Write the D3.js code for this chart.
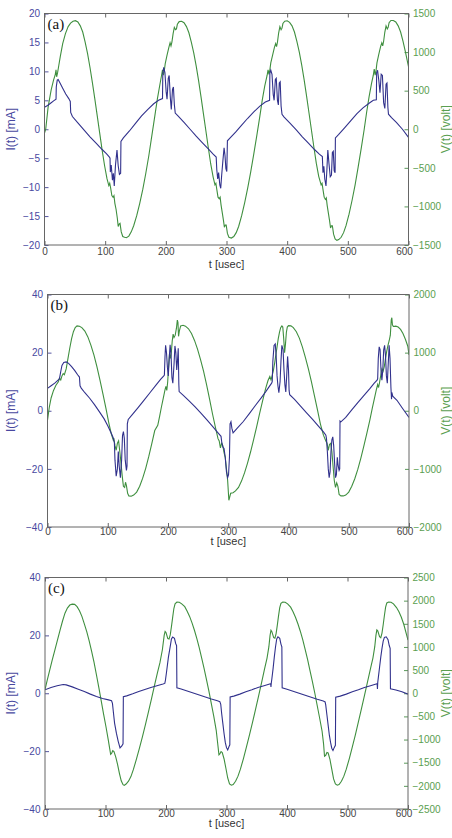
<!DOCTYPE html>
<html>
<head>
<meta charset="utf-8">
<script src="https://cdn.jsdelivr.net/npm/d3@7"></script>
<style>
  body { margin: 0; background: #fff; }
  text { font-family: "Liberation Sans", Arial, sans-serif; }
</style>
</head>
<body>
<script>
// tick values
var tTicks = [0, 100, 200, 300, 400, 500, 600];
var aITicks = [-20, -15, -10, -5, 0, 5, 10, 15, 20];
var aVTicks = [-1500, -1000, -500, 0, 500, 1000, 1500];
var bITicks = [-40, -20, 0, 20, 40];
var bVTicks = [-2000, -1000, 0, 1000, 2000];
var cITicks = [-40, -20, 0, 20, 40];
var cVTicks = [-2500, -2000, -1500, -1000, -500, 0, 500, 1000, 1500, 2000, 2500];

// panel (a) : [t usec, I mA]
var aCurrent = [[0,3.8],[5,4.1],[10,4.5],[15,4.9],[19,5.2],[19.4,7.3],[21,8.5],[22.5,8.6],[26,7.9],[30,7.1],[35,6.1],[40,5.3],[42.5,4.8],[43.2,2.9],[46,2.2],[55,1.1],[65,-0.1],[75,-1.3],[85,-2.4],[95,-3.5],[102,-4.2],[107,-4.8],
  [108,-5.0],[108.5,-7.4],[110,-6.2],[112,-8.8],[113.5,-7.6],[115,-9.8],[117,-6.2],[119.5,-3.6],[121.5,-6.3],[123.5,-7.8],[125.5,-7.6],[126,-2.1],
  [130,-1.5],[140,-0.3],[150,1.0],[160,2.3],[170,3.4],[180,4.4],[188,5.0],[194.5,5.3],
  [195,9.6],[196.5,10.7],[198.5,9.8],[200.5,6.5],[202,5.2],[204,8.8],[205.5,9.3],[207.5,5.3],[209,3.4],[211,6.9],[212.5,7.3],[214,4.3],[215.5,2.8],
  [220,2.3],[230,1.2],[240,0.0],[250,-1.2],[260,-2.3],[270,-3.4],[278,-4.3],[283,-4.8],
  [284,-7.0],[285.5,-8.6],[287,-7.5],[289,-9.6],[290.5,-10.2],[292,-8.0],[294,-5.5],[296,-3.2],[297.5,-4.5],[299,-6.8],[300.5,-7.3],[301.5,-2.0],
  [306,-1.5],[315,-0.5],[325,0.7],[335,1.9],[345,3.0],[355,4.0],[364,4.7],[371,5.0],
  [371.5,9.7],[373,10.2],[375,9.5],[377,6.0],[378.5,5.0],[380.5,8.6],[382,8.8],[384,5.0],[385.5,4.2],[387,8.0],[388.5,8.2],[390,4.0],[391.5,2.6],
  [395,2.1],[405,1.0],[415,-0.1],[425,-1.3],[435,-2.4],[445,-3.5],[453,-4.3],[458,-4.7],
  [459,-7.5],[460.5,-6.4],[462,-8.6],[464,-9.8],[465.5,-7.0],[467,-3.6],[469,-6.0],[471,-8.2],[473,-7.9],[474.5,-4.0],[476,-3.8],[477.5,-7.2],[479,-7.5],[479.5,-1.5],
  [485,-0.9],[495,0.3],[505,1.5],[515,2.7],[525,3.7],[535,4.5],[542,5.0],[547,5.1],
  [547.5,9.8],[549,10.2],[551,8.5],[553,6.3],[555,9.5],[557,9.3],[559,4.6],[561,3.6],[563,7.8],[564.5,8.0],[566,3.8],[567,2.6],
  [572,2.0],[580,1.2],[590,0.0],[600,-1.4]];

// panel (a) : [t usec, V volt]
var aVoltage = [[0,-50],[2,0],[6,290],[11,510],[15,640],[17.5,700],[19,770],[20,680],[21.5,730],[23,800],[26,940],[30,1110],[34.5,1240],[39,1330],[43,1375],[47,1400],[51,1407],
  [55,1390],[59,1340],[63,1260],[67,1130],[71,980],[75,800],[79,600],[83,390],[87,170],[91,-50],[95,-270],[99,-470],[103,-640],[106,-730],
  [107.5,-700],[109,-760],[111,-860],[113,-880],[114.5,-860],[116,-960],[118,-1040],[120,-1150],[121.5,-1260],[123,-1230],[124.5,-1220],[126.5,-1330],[129,-1390],[132,-1400],[135,-1405],
  [139,-1385],[143,-1330],[147,-1250],[152,-1120],[157,-960],[162,-780],[167,-570],[172,-340],[177,-80],[182,180],[186,390],[190,570],[193,700],[194.5,770],[196,700],[197.5,760],[199,850],[202,960],[205,1060],[207,1120],[208.5,1080],[210,1130],[212,1240],[214,1320],[216,1290],[217.5,1300],[219,1360],[222,1395],[226,1400],
  [230,1380],[234,1330],[238,1250],[242,1130],[246,990],[250,820],[254,630],[258,420],[262,200],[266,-20],[270,-240],[274,-450],[278,-620],[281,-720],
  [282.5,-700],[284,-780],[286,-880],[288,-900],[289.5,-880],[291,-980],[293,-1080],[295,-1180],[296.5,-1270],[298,-1240],[299.5,-1240],[301.5,-1350],[304,-1400],[308,-1410],
  [312,-1390],[316,-1340],[320,-1260],[325,-1120],[330,-950],[335,-760],[340,-550],[345,-320],[350,-80],[355,170],[359,380],[363,560],[367,700],[368.5,770],[370,710],[371.5,770],[373,860],[376,960],[379,1060],[381,1110],[382.5,1070],[384,1130],[386,1250],[388,1330],[390,1290],[391.5,1310],[393,1370],[396,1400],[400,1405],
  [404,1385],[408,1340],[412,1260],[416,1140],[420,1000],[424,830],[428,640],[432,430],[436,210],[440,-10],[444,-230],[448,-440],[452,-610],[456,-720],
  [457.5,-700],[459,-780],[461,-880],[463,-910],[464.5,-890],[466,-990],[468,-1090],[470,-1190],[471.5,-1280],[473,-1250],[474.5,-1250],[476.5,-1360],[479,-1420],[482,-1440],[485,-1430],
  [489,-1400],[493,-1340],[497,-1250],[502,-1100],[507,-920],[512,-720],[517,-490],[522,-250],[527,0],[531,220],[535,420],[539,590],[542,700],[543.5,780],[545,700],[546.5,760],[548,860],[551,970],[554,1070],[556,1120],[557.5,1080],[559,1140],[561,1260],[563,1340],[565,1300],[566.5,1320],[568,1380],[571,1410],[575,1410],
  [579,1390],[583,1340],[587,1260],[591,1140],[595,1000],[600,810]];

// panel (b)
var bCurrent = [[0,7.7],[6,8.6],[12,9.5],[18,10.6],[20,11.2],[22,13.5],[24,15.6],[27,16.6],[31,16.8],[35,16.3],[40,15.2],[45,13.9],[50,12.4],[53,11.6],[54,8.6],[56,7.8],[62,6.2],[70,4.3],[78,2.1],[86,-0.3],[94,-2.8],[100,-5.2],[106,-7.8],[109,-9.3],[111,-11.0],
  [112,-17],[114,-22.5],[116,-20],[117.5,-14],[119,-19],[121,-23],[123,-17],[124.5,-8.5],[126,-7.2],[127.5,-9.5],[129,-17],[131,-20.5],[132,-19],[132.5,-4.5],[134,-3.0],
  [140,-1.5],[150,1.0],[160,3.6],[170,6.2],[180,8.8],[188,10.9],[193,12.0],
  [194,12.3],[195,18.5],[196,22.5],[197.5,20],[199,15],[200.5,12],[202,18],[203.5,22.7],[205,19.5],[206.5,11.5],[208,9.5],[210,16],[211.5,22.3],[213,20],[214.5,14],[216,18],[217,21.5],[218,9],[218.5,6.6],
  [225,5.4],[235,3.4],[245,1.3],[255,-0.9],[265,-3.2],[275,-5.6],[283,-7.6],[288,-8.8],
  [289,-10.5],[291,-12.5],[293,-13],[295,-16],[297,-21],[299,-23],[300.5,-22],[302,-16],[303,-4.5],[304.5,-3.8],[306,-6.0],[308,-7.6],
  [315,-6.0],[325,-3.7],[335,-1.0],[345,1.8],[355,4.5],[362,6.5],[368,8.3],[372,9.5],
  [373,10],[374,17],[376,22.5],[378,23],[379.5,19],[381,12],[382.5,8.5],[384,6.2],[386,10],[387.5,17],[389,22.5],[391,21],[392.5,14],[394,9],[395.5,6.5],[397,12],[398.5,18.7],[400,14],[401,7],[402,5.5],
  [410,3.9],[420,1.6],[430,-0.7],[440,-3.0],[450,-5.4],[458,-7.3],[462,-8.4],
  [463,-9.5],[464.5,-14],[466,-20],[467.5,-23],[469,-21],[470.5,-14],[472,-10],[473.5,-9],[475,-12],[476.5,-18],[478,-23],[479.5,-22],[481,-16],[482.5,-19],[484,-20.5],[485,-20],[485.5,-3.5],[487,-3.8],
  [495,-2.3],[505,0.3],[515,2.8],[525,5.2],[535,7.6],[542,9.4],[547,10.5],
  [548,11],[549,18],[550.5,22],[552,21],[553.5,14],[555,10.5],[556.5,14],[558,21],[559.5,22.5],[561,19],[562.5,12],[564,9.5],[565.5,16],[567,22.5],[568.5,18],[570,8],[571,4],[571.5,6.3],[573,5.0],
  [580,3.6],[590,0.6],[600,-2.3]];

var bVoltage = [[0,-160],[3,60],[6,220],[10,350],[14,440],[18,500],[20,560],[22,530],[24,600],[26,640],[28,620],[31,720],[34,900],[37,1080],[40,1240],[43,1360],[46,1430],[49,1460],[53,1455],
  [57,1430],[62,1370],[67,1270],[72,1130],[77,960],[82,760],[87,530],[92,290],[97,40],[102,-220],[106,-400],[109,-500],
  [110,-470],[112,-600],[114,-680],[116,-560],[118,-520],[120,-700],[122,-900],[124,-1120],[126,-1300],[128,-1320],[129.5,-1230],[131,-1290],[133,-1420],[135,-1465],[139,-1470],[143,-1450],
  [148,-1400],[153,-1300],[158,-1160],[163,-990],[168,-790],[173,-570],[178,-340],[183,-250],[186,-100],[189,60],[192,210],[195,360],[196.5,420],[198,350],[199.5,500],[201,760],[202.5,980],[204,900],[205.5,1000],[207,1200],[208.5,1320],[210,1260],[212,1300],[214,1420],[215.5,1560],[216.5,1520],[217.5,1280],[219,1380],[221,1460],[225,1470],[229,1455],
  [234,1410],[239,1330],[244,1210],[249,1060],[254,880],[259,680],[264,450],[269,200],[274,-60],[279,-300],[283,-480],
  [285,-520],[287,-640],[289,-560],[291,-600],[293,-720],[295,-800],[297,-1000],[299,-1200],[301,-1540],[302.5,-1480],[304,-1420],[308,-1410],[312,-1380],
  [317,-1320],[322,-1210],[327,-1070],[332,-900],[337,-710],[342,-500],[347,-280],[352,-50],[357,170],[362,380],[366,520],[369,590],[371,530],[373,610],[375,700],
  [377,820],[379,960],[381,1100],[383,1240],[385,1350],[387,1430],[389,1460],[390.5,1440],[392,1250],[393.5,1000],[395,1150],[396.5,1350],[398,1440],[400,1465],[404,1460],[408,1430],
  [413,1360],[418,1250],[423,1100],[428,920],[433,720],[438,500],[443,260],[448,20],[453,-230],[458,-420],[462,-520],
  [464,-560],[466,-680],[468,-580],[470,-560],[472,-700],[474,-960],[476,-1200],[478,-1320],[480,-1240],[482,-1300],[484,-1440],[487,-1465],[491,-1465],[495,-1450],
  [500,-1400],[505,-1300],[510,-1170],[515,-1010],[520,-820],[525,-610],[530,-390],[535,-160],[539,40],[543,230],[546,370],[548,450],[549.5,400],[551,480],[553,600],[555,720],[557,680],[559,760],[561,900],[563,1020],[565,1120],[567,1200],[569,1300],[570.5,1560],[571.5,1600],[572.5,1480],[574,1450],[578,1455],
  [582,1440],[586,1400],[590,1330],[594,1230],[598,1110],[600,960]];

// panel (c)
var cCurrent = [[0,1.2],[10,2.0],[20,2.6],[30,3.0],[35,2.9],[45,2.2],[55,1.4],[65,0.6],[75,-0.3],[85,-1.1],[95,-1.8],[105,-2.3],[110,-2.6],
  [111.5,-3.5],[113,-6.5],[115,-10.3],[118,-13.8],[121,-16.6],[124,-18.9],[127,-18.2],[129,-17.5],[129.5,-1.2],
  [135,-0.9],[145,-0.2],[155,0.6],[165,1.3],[175,2.0],[185,2.6],[195,3.2],[198,3.4],
  [199,4.4],[201,7.5],[204,12.5],[207,16.2],[209,18.8],[211,19.4],[214,19.0],[216,17.2],[217.5,16.5],[218,1.9],
  [225,1.5],[235,0.8],[245,0.1],[255,-0.6],[265,-1.3],[275,-2.0],[285,-2.6],[289,-2.9],
  [290.5,-3.8],[292,-7],[294,-10.5],[296,-14],[298,-17],[300,-18.8],[302,-19.6],[304,-18.5],[305.5,-17.8],[306,-1.3],
  [312,-1.0],[322,-0.3],[332,0.5],[342,1.2],[352,2.0],[362,2.6],[370,3.1],[373,3.3],
  [373.5,2.2],[374,3.5],[375,5],[377,8.5],[379,12.5],[381,16],[383,18.8],[385,19.5],[388,19.0],[390,17],[391.5,16],[392,1.9],
  [400,1.4],[410,0.7],[420,0.0],[430,-0.7],[440,-1.4],[450,-2.1],[460,-2.7],[463,-3.0],
  [464,-4],[466,-7.5],[468,-11],[470,-14.5],[472,-17],[474,-19],[476,-19.8],[478,-18.8],[480,-18],[480.5,-1.4],
  [488,-1.0],[498,-0.3],[508,0.5],[518,1.2],[528,2.0],[538,2.6],[546,3.1],[549,3.3],
  [549.5,1.5],[550,3.8],[551,5.5],[553,9],[555,12.5],[557,15.5],[559,18],[561,19.3],[564,19.5],[567,18.5],[569,16.5],[570.5,15.5],[571,1.5],
  [580,1.1],[590,0.5],[600,-0.3]];

var cVoltage = [[0,80],[4,300],[8,510],[12,720],[16.5,940],[21,1170],[25,1370],[29,1560],[33,1730],[37,1840],[41,1905],[45,1925],[49,1920],[53,1870],[57,1780],[61,1660],[65,1500],[69,1330],[73,1130],[77,910],[81,670],[85,400],[89,120],[93,-170],[97,-460],[101,-740],[104.5,-1000],[107,-1200],[108.5,-1320],[110,-1300],[112,-1240],[114,-1260],[117,-1380],[120,-1540],[123,-1730],[126,-1890],[129,-1975],[131,-1990],[134,-1960],
  [138,-1900],[142,-1800],[146,-1650],[151,-1430],[156,-1190],[161,-940],[166,-680],[171,-400],[176,-120],[181,170],[186,450],[190,660],[194,940],[197,1250],[198.5,1335],[200,1310],[203,1180],[205,1170],[207,1260],[209,1440],[211,1640],[213,1830],[215,1930],[218,1968],[222,1965],[226,1930],
  [231,1870],[235,1770],[239,1660],[243,1520],[247,1360],[251,1180],[255,980],[259,760],[263,530],[267,290],[271,40],[275,-230],[279,-500],[283,-800],[286,-1150],[287.5,-1330],[289,-1310],[291,-1260],[293,-1280],[296,-1420],[299,-1620],[302,-1830],[305,-1960],[308,-1985],[311,-1970],
  [315,-1900],[319,-1790],[323,-1640],[328,-1410],[333,-1160],[338,-900],[343,-630],[348,-350],[353,-60],[358,230],[363,530],[367,760],[370,1000],[372,1250],[373.5,1360],[375,1330],[378,1200],[380,1190],[382,1290],[384,1470],[386,1670],[388,1850],[390,1940],[393,1970],[397,1965],[401,1930],
  [406,1860],[410,1760],[414,1640],[418,1500],[422,1340],[426,1160],[430,950],[434,730],[438,490],[442,250],[446,0],[450,-270],[454,-540],[458,-820],[460.5,-1100],[462,-1360],[464,-1340],[466,-1280],[468,-1290],[471,-1430],[474,-1640],[477,-1850],[480,-1960],[483,-1985],[486,-1970],
  [490,-1900],[494,-1790],[498,-1640],[503,-1410],[508,-1160],[513,-900],[518,-620],[523,-340],[528,-50],[533,240],[538,530],[542,760],[545,1000],[547,1250],[548.5,1370],[550,1350],[553,1220],[555,1200],[557,1300],[559,1480],[561,1680],[563,1860],[565,1950],[568,1970],[572,1965],
  [576,1930],[581,1850],[585,1760],[589,1640],[593,1490],[600,1150]];

var blue = "#31318c", green = "#3f8f3f";
var W = 452, H = 838;

var panels = [
  {tag: "(a)", left: 44.5, right: 408.5, top: 13.5, bottom: 245, iDom: [-20, 20], vDom: [-1500, 1500],
   iTicks: aITicks, vTicks: aVTicks, cur: aCurrent, volt: aVoltage, tickGap: 2.5, labY: 268},
  {tag: "(b)", left: 47.5, right: 409, top: 294.5, bottom: 527, iDom: [-40, 40], vDom: [-2000, 2000],
   iTicks: bITicks, vTicks: bVTicks, cur: bCurrent, volt: bVoltage, tickGap: 0.5, labY: 545},
  {tag: "(c)", left: 45, right: 408, top: 577.5, bottom: 809, iDom: [-40, 40], vDom: [-2500, 2500],
   iTicks: cITicks, vTicks: cVTicks, cur: cCurrent, volt: cVoltage, tickGap: 0.5, labY: 827}
];

var fmt = d3.format("d");

var svg = d3.select("body").append("svg")
    .attr("width", W)
    .attr("height", H);

panels.forEach(function(p, k) {
    var x = d3.scaleLinear().domain([0, 600]).range([p.left, p.right]);
    var yI = d3.scaleLinear().domain(p.iDom).range([p.bottom, p.top]);
    var yV = d3.scaleLinear().domain(p.vDom).range([p.bottom, p.top]);

    var g = svg.append("g");

    svg.append("clipPath").attr("id", "clip" + k)
        .append("rect")
        .attr("x", p.left).attr("y", p.top)
        .attr("width", p.right - p.left).attr("height", p.bottom - p.top);

    // bottom axis with labels, ticks pointing in
    var xAx = g.append("g")
        .attr("transform", "translate(0," + p.bottom + ")")
        .call(d3.axisBottom(x).tickValues(tTicks).tickSize(-4).tickPadding(p.tickGap).tickFormat(fmt));
    // top ticks only
    var xTop = g.append("g")
        .attr("transform", "translate(0," + p.top + ")")
        .call(d3.axisTop(x).tickValues(tTicks).tickSize(-4).tickFormat(""));
    var yAx = g.append("g")
        .attr("transform", "translate(" + p.left + ",0)")
        .call(d3.axisLeft(yI).tickValues(p.iTicks).tickSize(-4).tickPadding(4.5).tickFormat(fmt));
    var vAx = g.append("g")
        .attr("transform", "translate(" + p.right + ",0)")
        .call(d3.axisRight(yV).tickValues(p.vTicks).tickSize(-4).tickPadding(4.5).tickFormat(fmt));

    [xAx, xTop, yAx, vAx].forEach(function(a) {
        a.select(".domain").remove();
        a.selectAll("text").style("font-size", "10px")
            .style("font-family", "'Liberation Sans', Arial, sans-serif");
    });
    xAx.selectAll("line").attr("stroke", "#666");
    xTop.selectAll("line").attr("stroke", "#666");
    xAx.selectAll("text").attr("fill", "#444");
    // last time label sits a little left, clear of the right axis labels
    xAx.selectAll("text").filter(function(d) { return d === 600; }).attr("dx", -4.5);
    yAx.selectAll("line").attr("stroke", "#5555a0");
    yAx.selectAll("text").attr("fill", "#4848a0");
    vAx.selectAll("line").attr("stroke", "#5a9a5a");
    vAx.selectAll("text").attr("fill", "#5a9e50");

    var lineI = d3.line().x(function(d) { return x(d[0]); }).y(function(d) { return yI(d[1]); });
    var lineV = d3.line().x(function(d) { return x(d[0]); }).y(function(d) { return yV(d[1]); });

    var plot = g.append("g").attr("clip-path", "url(#clip" + k + ")");
    plot.append("path")
        .datum(p.volt)
        .attr("d", lineV)
        .attr("fill", "none")
        .attr("stroke", green)
        .attr("stroke-width", 1.1);
    plot.append("path")
        .datum(p.cur)
        .attr("d", lineI)
        .attr("fill", "none")
        .attr("stroke", blue)
        .attr("stroke-width", 1.1);

    // frame
    g.append("rect")
        .attr("x", p.left).attr("y", p.top)
        .attr("width", p.right - p.left).attr("height", p.bottom - p.top)
        .attr("fill", "none")
        .attr("stroke", "#666")
        .attr("stroke-width", 1);

    g.append("text")
        .attr("x", p.left + 3)
        .attr("y", p.top + 15)
        .style("font-family", "'Liberation Serif', 'Times New Roman', serif")
        .style("font-size", "15px")
        .attr("fill", "#111")
        .text(p.tag);

    g.append("text")
        .attr("x", (p.left + p.right) / 2)
        .attr("y", p.labY)
        .attr("text-anchor", "middle")
        .style("font-size", "11px")
        .attr("fill", "#333")
        .text("t [usec]");

    g.append("text")
        .attr("transform", "translate(15," + (p.top + p.bottom) / 2 + ") rotate(-90)")
        .attr("text-anchor", "middle")
        .style("font-size", "12px")
        .attr("fill", "#4848a0")
        .text("I(t) [mA]");

    g.append("text")
        .attr("transform", "translate(450," + (p.top + p.bottom) / 2 + ") rotate(-90)")
        .attr("text-anchor", "middle")
        .style("font-size", "12px")
        .attr("fill", "#5a9e50")
        .text("V(t) [volt]");
});
</script>
</body>
</html>
